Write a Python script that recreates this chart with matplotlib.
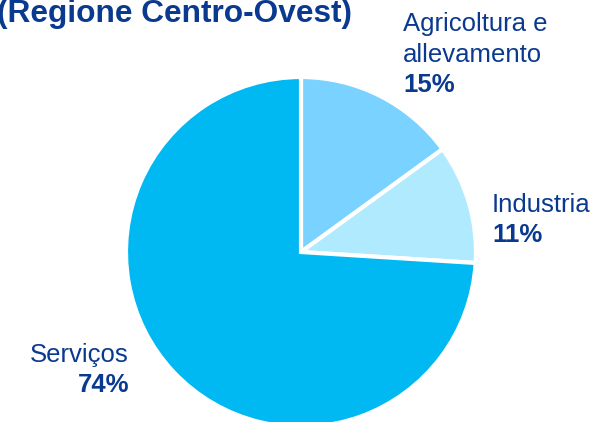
import matplotlib
matplotlib.use("Agg")
import matplotlib.pyplot as plt

title = "(Regione Centro-Ovest)"
categories = ["Agricoltura e\nallevamento", "Industria", "Serviços"]
values = [15, 11, 74]
pct_labels = ["15%", "11%", "74%"]
colors = ["#79d2ff", "#b0eaff", "#00b9f2"]
text_color = "#0a3a8f"

plt.rcParams['font.family'] = ['Liberation Sans', 'DejaVu Sans']

W, H = 598, 422
fig = plt.figure(figsize=(W / 100, H / 100), dpi=100)
ax = fig.add_axes([0, 0, 1, 1])
ax.set_xlim(0, W)
ax.set_ylim(0, H)
ax.axis("off")

ax.pie(values, colors=colors, startangle=90, counterclock=False,
       center=(301, H - 252), radius=175,
       wedgeprops=dict(edgecolor="white", linewidth=3))
ax.set_xlim(0, W)
ax.set_ylim(0, H)
ax.set_aspect("auto")

ax.text(-3, H - 22, title, fontsize=22.8, fontweight="bold", color=text_color,
        ha="left", va="baseline")

# label layout: (x, first baseline y in px from top, ha)
layout = [(403, 31, "left"), (492, 212, "left"), (129, 362, "right")]
line_gap = 30.5
for (x, y0, ha), name, pct in zip(layout, categories, pct_labels):
    lines = name.split("\n")
    for i, ln in enumerate(lines):
        ax.text(x, H - (y0 + i * line_gap), ln, fontsize=18.5, color=text_color,
                ha=ha, va="baseline")
    ax.text(x, H - (y0 + len(lines) * line_gap), pct, fontsize=18.5,
            fontweight="bold", color=text_color, ha=ha, va="baseline")

fig.savefig("out.png", dpi=100)
